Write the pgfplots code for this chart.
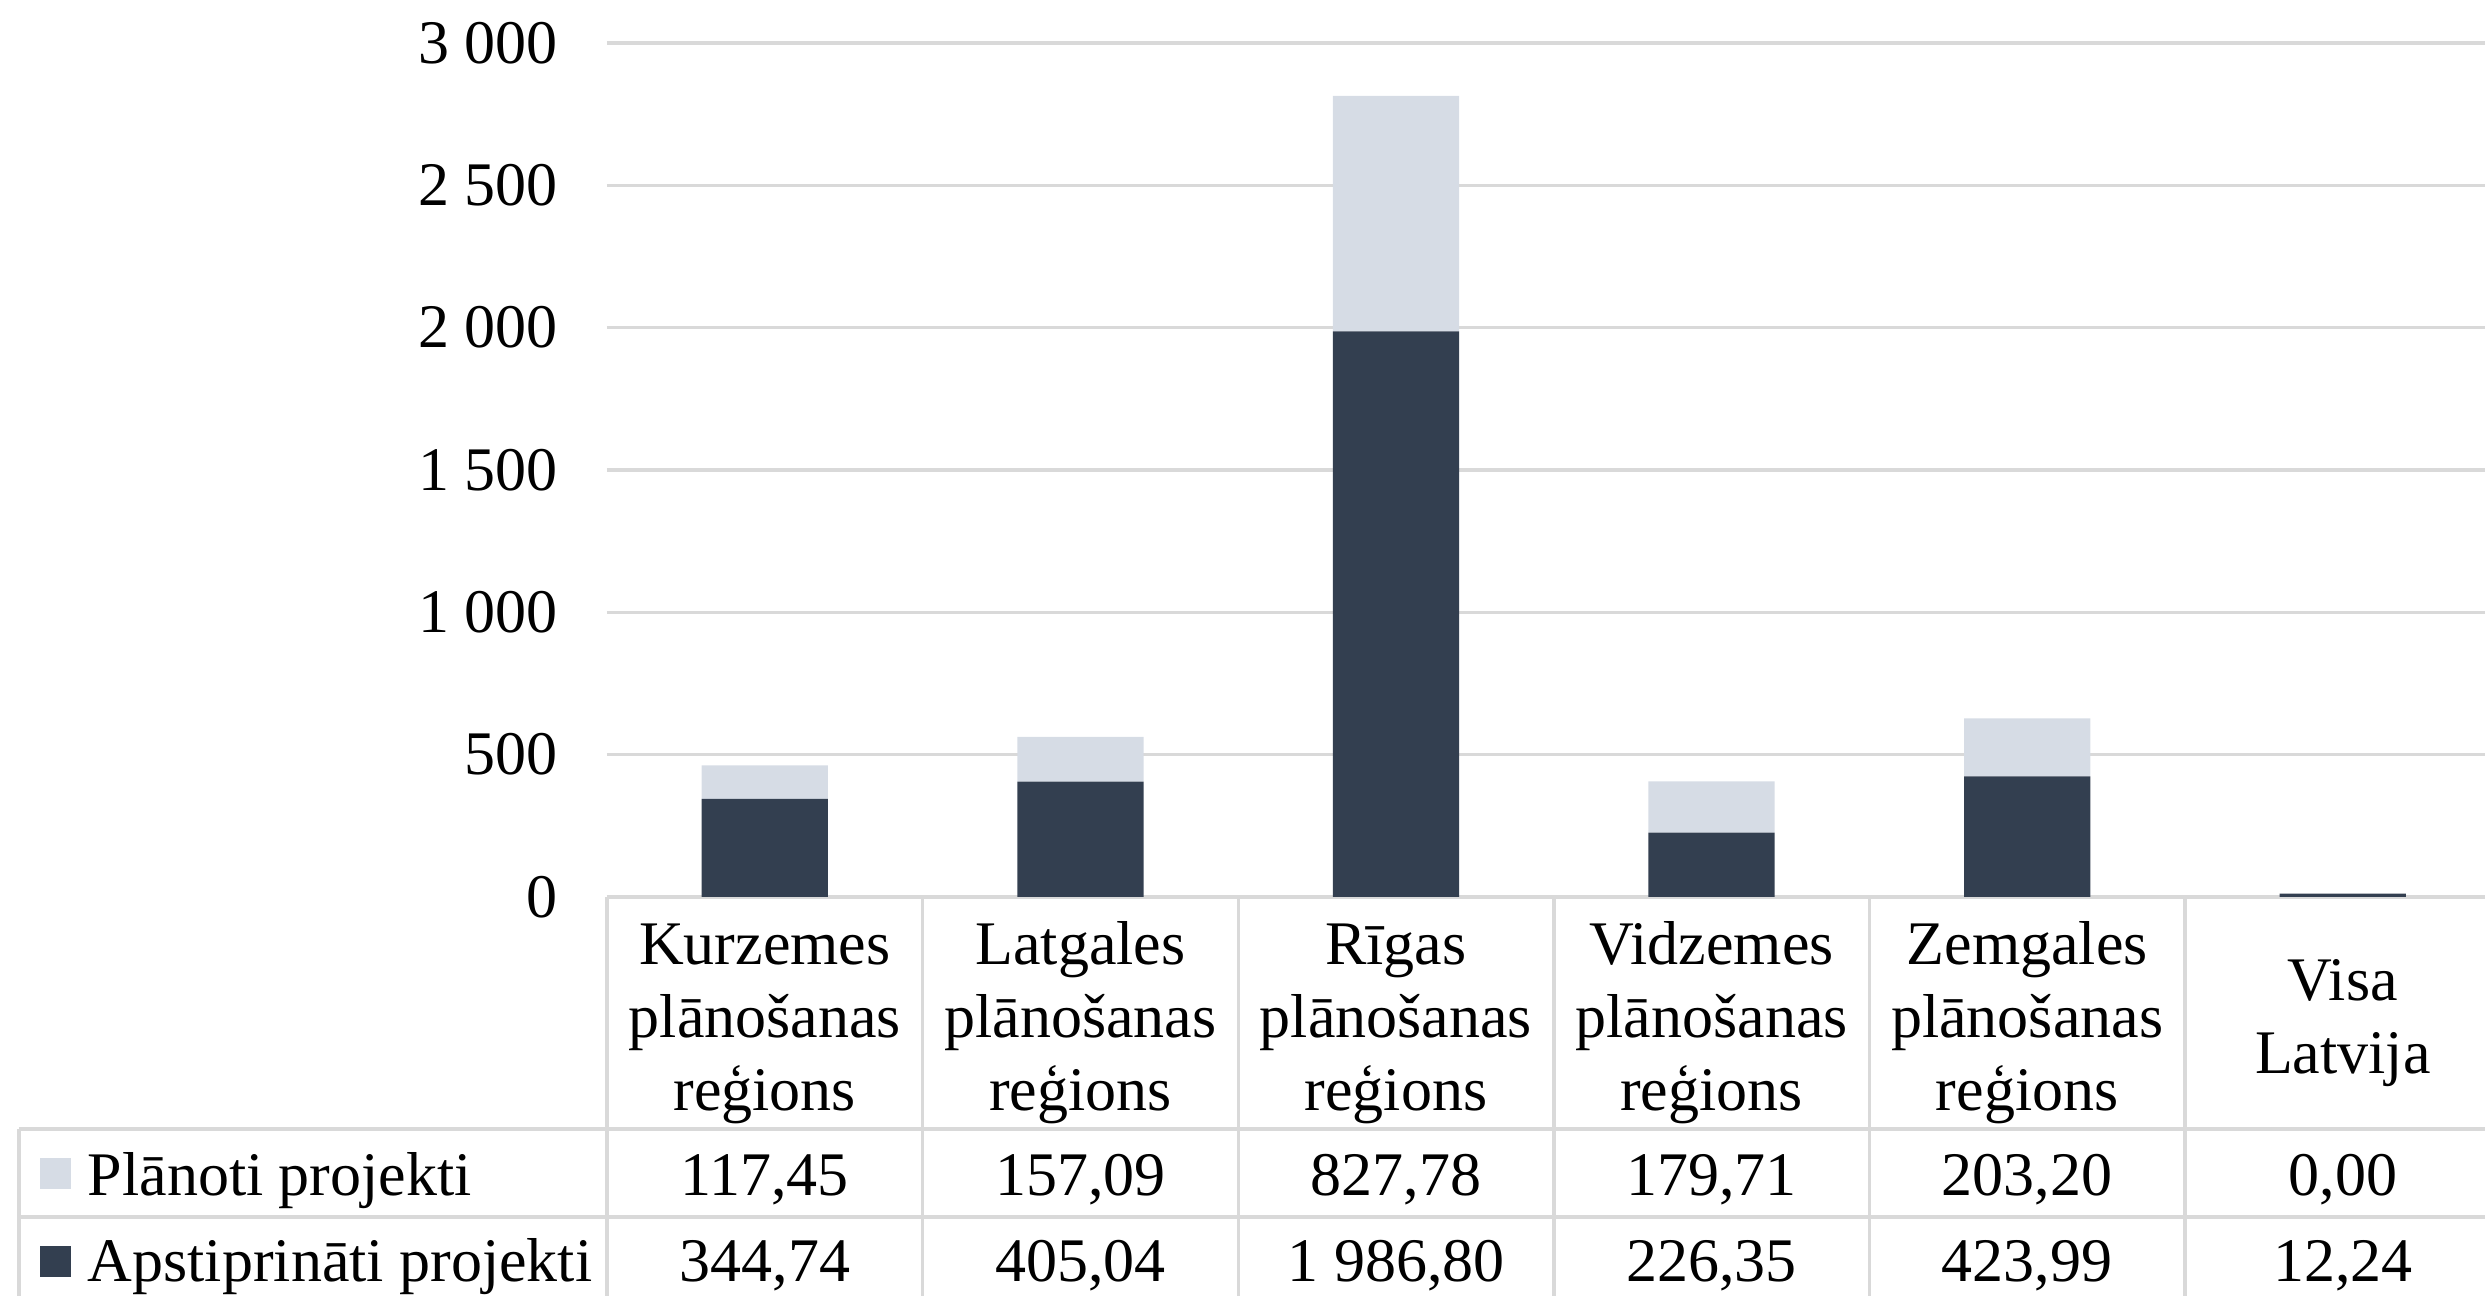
\documentclass[border=0pt]{standalone}
\usepackage{fontspec}
\setmainfont{Liberation Serif}
\usepackage{pgfplots}
\pgfplotsset{compat=1.18}
\definecolor{dark}{HTML}{333F50}
\definecolor{light}{HTML}{D6DCE5}
\definecolor{gridc}{HTML}{D9D9D9}
\begin{document}
\begin{tikzpicture}[font=\fontsize{15.5}{18.2}\selectfont]
\path[use as bounding box] (-151.75pt,-99.75pt) rectangle (469.5pt,224.25pt);
\begin{axis}[
  at={(0,0)}, anchor=south west,
  scale only axis, width=473.4pt, height=213.5pt,
  xmin=-0.5, xmax=5.5, ymin=0, ymax=3000,
  ybar stacked, bar width=0.4,
  axis line style={draw=none},
  xtick=\empty,
  ytick={0,500,1000,1500,2000,2500,3000},
  yticklabels={0,500,1 000,1 500,2 000,2 500,3 000},
  major tick length=0pt,
  ymajorgrids, grid style={gridc, line width=0.85pt},
  yticklabel style={font=\fontsize{15.5}{18.2}\selectfont, xshift=-8.8pt},
  clip=false,
]
\addplot[fill=dark, draw=none] coordinates {(0,344.74) (1,405.04) (2,1986.80) (3,226.35) (4,423.99) (5,12.24)};
\addplot[fill=light, draw=none] coordinates {(0,117.45) (1,157.09) (2,827.78) (3,179.71) (4,203.20) (5,0)};
\end{axis}
% table lines
\begin{scope}[gridc, line width=0.85pt]
\draw (-147pt,-58pt) -- (473.4pt,-58pt);
\draw (-147pt,-80pt) -- (473.4pt,-80pt);
\draw (-147pt,-58pt) -- (-147pt,-100pt);
\foreach \i in {0,...,6} {\draw (\i*78.9pt,0pt) -- (\i*78.9pt,-100pt);}
\end{scope}
% header
\foreach \i/\a in {0/Kurzemes,1/Latgales,2/Rīgas,3/Vidzemes,4/Zemgales} {
  \node[anchor=base, inner sep=0pt] at ({(\i+0.5)*78.9pt},-16.9pt) {\a};
  \node[anchor=base, inner sep=0pt] at ({(\i+0.5)*78.9pt},-35.1pt) {plānošanas};
  \node[anchor=base, inner sep=0pt] at ({(\i+0.5)*78.9pt},-53.3pt) {reģions};
}
\node[anchor=base, inner sep=0pt] at ({5.5*78.9pt},-26pt) {Visa};
\node[anchor=base, inner sep=0pt] at ({5.5*78.9pt},-44.2pt) {Latvija};
% rows
\foreach \i/\v in {0/{117,45},1/{157,09},2/{827,78},3/{179,71},4/{203,20},5/{0,00}} {
  \node[anchor=base, inner sep=0pt] at ({(\i+0.5)*78.9pt},-74.5pt) {\v};
}
\foreach \i/\v in {0/{344,74},1/{405,04},2/{1 986,80},3/{226,35},4/{423,99},5/{12,24}} {
  \node[anchor=base, inner sep=0pt] at ({(\i+0.5)*78.9pt},-96pt) {\v};
}
\fill[light] (-141.75pt,-73pt) rectangle (-134pt,-65.2pt);
\fill[dark] (-141.75pt,-95pt) rectangle (-134pt,-87.25pt);
\node[anchor=base west, inner sep=0pt] at (-130pt,-74.5pt) {Plānoti projekti};
\node[anchor=base west, inner sep=0pt] at (-130pt,-96pt) {Apstiprināti projekti};
\end{tikzpicture}
\end{document}
